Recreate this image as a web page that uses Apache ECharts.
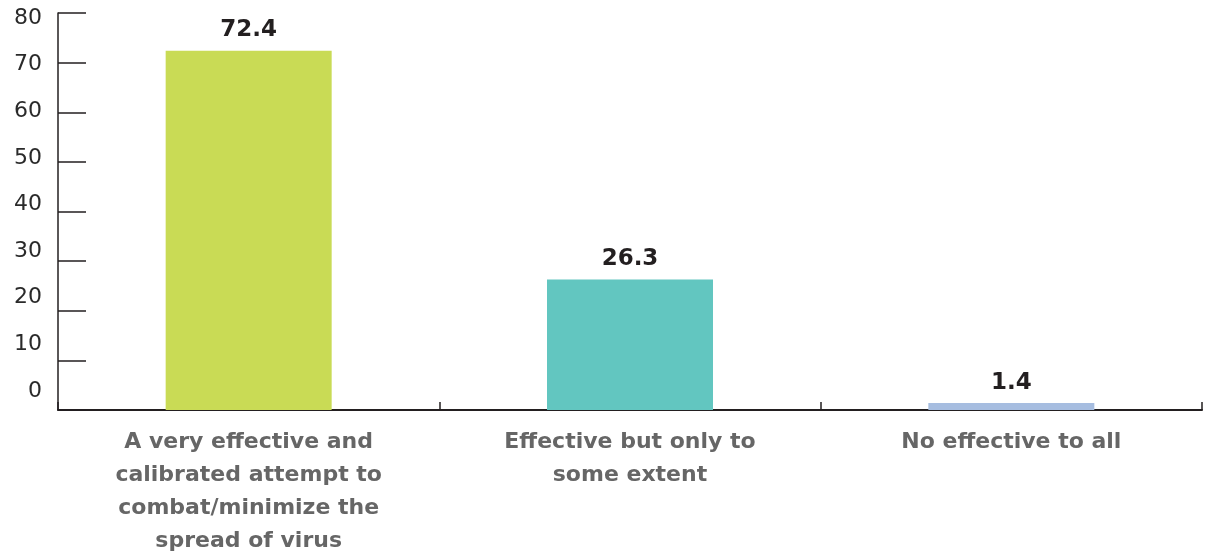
<!DOCTYPE html>
<html>
<head>
<meta charset="utf-8">
<script src="https://cdn.jsdelivr.net/npm/echarts@6/dist/echarts.min.js"></script>
<style>
  html, body { margin: 0; padding: 0; background: #fff; }
  #chart { width: 1206px; height: 552px; }
</style>
</head>
<body>
<div id="chart"></div>
<script>
// Survey responses: perceived effectiveness of measures against the virus (%)
const categories = [
  'A very effective and\ncalibrated attempt to\ncombat/minimize the\nspread of virus',
  'Effective but only to\nsome extent',
  'No effective to all'
];
const values = [72.4, 26.3, 1.4];
const barColors = ['#C9DB55', '#62C6C0', '#A6BDE0'];
const yTicks = { min: 0, max: 80, step: 10 };

const axisColor = '#231F20';

const chart = echarts.init(document.getElementById('chart'));
chart.setOption({
  animation: false,
  grid: [
    { left: 58, right: 4, top: 13, bottom: 142, containLabel: false, outerBoundsMode: 'none' },
    // label-only grid for the value scale captions
    { left: 58, right: 4, top: 18, bottom: 161, containLabel: false, outerBoundsMode: 'none' }
  ],
  xAxis: [
    {
      type: 'category',
      gridIndex: 0,
      data: categories,
      axisLine: { show: true, lineStyle: { color: axisColor, width: 2 } },
      axisTick: { show: true, inside: true, length: 8, lineStyle: { color: axisColor, width: 1.5 } },
      axisLabel: {
        interval: 0,
        margin: 16,
        color: '#666666',
        fontFamily: 'DejaVu Sans',
        fontWeight: 'bold',
        fontSize: 22,
        lineHeight: 33,
        align: 'center'
      }
    },
    {
      type: 'category',
      gridIndex: 1,
      data: categories,
      show: false
    }
  ],
  yAxis: [
    {
      type: 'value',
      gridIndex: 0,
      min: yTicks.min,
      max: yTicks.max,
      interval: yTicks.step,
      axisLine: { show: true, lineStyle: { color: axisColor, width: 1.5 } },
      axisTick: { show: true, inside: true, length: 28, lineStyle: { color: axisColor, width: 1.5 } },
      axisLabel: { show: false },
      splitLine: { show: false }
    },
    {
      type: 'value',
      gridIndex: 1,
      min: yTicks.min,
      max: yTicks.max,
      interval: yTicks.step,
      axisLine: { show: false },
      axisTick: { show: false },
      splitLine: { show: false },
      axisLabel: {
        margin: 16,
        color: '#2A2A2A',
        fontFamily: 'DejaVu Sans',
        fontSize: 22
      }
    }
  ],
  series: [
    {
      type: 'bar',
      xAxisIndex: 0,
      yAxisIndex: 0,
      barWidth: 166,
      data: values.map((v, i) => ({ value: v, itemStyle: { color: barColors[i] } })),
      label: {
        show: true,
        position: 'top',
        distance: 9,
        color: '#231F20',
        fontFamily: 'DejaVu Sans',
        fontWeight: 'bold',
        fontSize: 23
      }
    }
  ]
});
</script>
</body>
</html>
